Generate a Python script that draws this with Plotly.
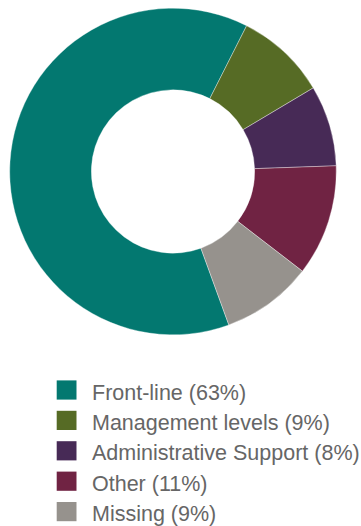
import plotly.graph_objects as go

# Staff composition by role, in percent
categories = ["Front-line", "Management levels", "Administrative Support", "Other", "Missing"]
shares = [63, 9, 8, 11, 9]
colors = ["#037870", "#566b25", "#472a56", "#702343", "#96928d"]

W, H = 361, 526

fig = go.Figure(
    go.Pie(
        labels=categories,
        values=shares,
        sort=False,
        direction="clockwise",
        rotation=160,
        hole=0.5,
        textinfo="none",
        hoverinfo="label+percent",
        marker=dict(colors=colors, line=dict(color="rgba(255,255,255,0.6)", width=0.6)),
        domain=dict(x=[9.7 / W, 336.3 / W], y=[1 - 334.8 / H, 1 - 8.2 / H]),
        showlegend=False,
    )
)

# Legend drawn as colour swatches with labels underneath the donut
shapes = []
annotations = []
row_top = 390.0
row_step = 30.4
for i, (name, pct, col) in enumerate(zip(categories, shares, colors)):
    cy = row_top + i * row_step
    shapes.append(dict(
        type="rect", xref="paper", yref="paper",
        x0=56.7 / W, x1=76.5 / W,
        y0=1 - (cy + 9.6) / H, y1=1 - (cy - 9.6) / H,
        fillcolor=col, line=dict(width=0),
    ))
    annotations.append(dict(
        text=f"{name} ({pct}%)",
        xref="paper", yref="paper",
        x=89.5 / W, y=1 - (cy + 2.5) / H,
        xanchor="left", yanchor="middle",
        showarrow=False,
        font=dict(family="Liberation Sans, Arial, sans-serif", size=21.5, color="#666666"),
    ))

fig.update_layout(
    width=W, height=H,
    margin=dict(l=0, r=0, t=0, b=0),
    paper_bgcolor="white",
    plot_bgcolor="white",
    shapes=shapes,
    annotations=annotations,
)

fig.write_html("out.html")
